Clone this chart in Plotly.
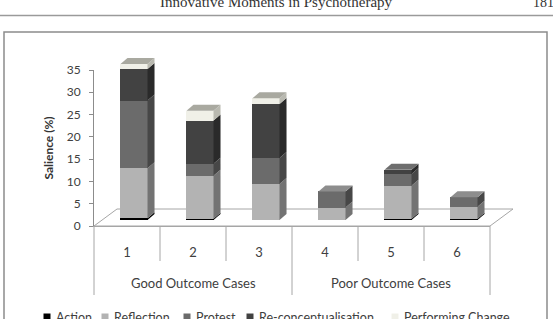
import plotly.graph_objects as go

# ---------------- data ----------------
cases = ["1", "2", "3", "4", "5", "6"]
groups = ["Good Outcome Cases", "Poor Outcome Cases"]
series_names = ["Action", "Reflection", "Protest", "Re-conceptualisation", "Performing Change"]
action = [0.4, 0.3, 0.0, 0.0, 0.3, 0.3]
reflection = [11.2, 9.6, 8.1, 2.8, 7.4, 2.7]
protest = [15.2, 2.7, 5.8, 3.6, 2.6, 2.1]
reconceptualisation = [7.1, 9.7, 12.1, 0.0, 1.0, 0.0]
performing_change = [1.1, 2.2, 1.3, 0.0, 0.0, 0.0]
y_ticks = [0, 5, 10, 15, 20, 25, 30, 35]

# ---------------- styles ----------------
front_cols = ["#000000", "#b3b3b3", "#6b6b6b", "#424242", "#f0f0e8"]
side_cols = ["#000000", "#737373", "#474747", "#2a2a2a", "#b9b9b0"]
top_cols = ["#222222", "#c8c8c8", "#8d8d8d", "#6e6e6e", "#a9a9a0"]
FONT = "Lato"

FIG_W, FIG_H = 553, 319
ML, MR, MT, MB = 94, 23, 50, 93
PW = FIG_W - ML - MR      # 436
PH = FIG_H - MT - MB      # 176
AXW = 396                 # front axis width in px
AXH = 156                 # front axis height in px
YMAX = 35
PX_PER_UNIT = AXH / YMAX
PX_PER_CAT = AXW / len(cases)
BAR_DX, BAR_DY = 7, 6     # bar placement inside the depth
SIDE_DX, SIDE_DY = 7, 6   # bar depth
FLOOR_DX, FLOOR_DY = 23, 17
BAR_W = 0.41

values = [action, reflection, protest, reconceptualisation, performing_change]

fig = go.Figure()

# invisible trace to populate the front category axis
fig.add_trace(go.Scatter(x=cases, y=[0] * len(cases), mode="markers",
                         marker=dict(opacity=0), showlegend=False,
                         hoverinfo="skip", xaxis="x", yaxis="y"))

xs = list(range(len(cases)))
for name, vals, col in zip(series_names, values, front_cols):
    fig.add_trace(go.Bar(x=xs, y=vals, name=name, width=BAR_W,
                         marker=dict(color=col, line=dict(width=0)),
                         xaxis="x2", yaxis="y2", showlegend=False))

# 3D side and top faces, computed from the stacked values
dxu = SIDE_DX / PX_PER_CAT
dyu = SIDE_DY / PX_PER_UNIT
shapes = []
for i in xs:
    base = 0.0
    xl = i - BAR_W / 2
    xr = i + BAR_W / 2
    top_k = None
    for k, vals in enumerate(values):
        v = vals[i]
        if v <= 0:
            continue
        b, t = base, base + v
        shapes.append(dict(type="path", xref="x2", yref="y2", layer="above",
                           path=f"M {xr},{b} L {xr+dxu},{b+dyu} L {xr+dxu},{t+dyu} L {xr},{t} Z",
                           fillcolor=side_cols[k], line=dict(width=0)))
        base = t
        top_k = k
    if top_k is not None:
        t = base
        shapes.append(dict(type="path", xref="x2", yref="y2", layer="above",
                           path=f"M {xl},{t} L {xr},{t} L {xr+dxu},{t+dyu} L {xl+dxu},{t+dyu} Z",
                           fillcolor=top_cols[top_k], line=dict(width=0)))

def px_to_paper_x(px):
    return (px - ML) / PW

def px_to_paper_y(py):
    return (FIG_H - MB - py) / PH

x_end = AXW / PW
fx = FLOOR_DX / PW
fy = FLOOR_DY / PH
# floor
shapes.append(dict(type="path", xref="paper", yref="paper", layer="below",
                   path=f"M 0,0 L {x_end},0 L {x_end+fx},{fy} L {fx},{fy} Z",
                   fillcolor="white", line=dict(color="#a6a6a6", width=1)))
# category box lines: short ones between cases, long ones at group edges
for j in range(len(cases) + 1):
    xp = j / len(cases) * x_end
    long_line = (j % 3 == 0)
    shapes.append(dict(type="line", xref="paper", yref="paper",
                       x0=xp, x1=xp, y0=0, y1=px_to_paper_y(295 if long_line else 261),
                       line=dict(color="#a6a6a6", width=1)))
# chart border
shapes.append(dict(type="rect", xref="paper", yref="paper",
                   x0=px_to_paper_x(4), x1=px_to_paper_x(547),
                   y0=px_to_paper_y(32), y1=px_to_paper_y(335),
                   line=dict(color="#8c8c8c", width=1.5), fillcolor="rgba(0,0,0,0)"))
# page header rule
shapes.append(dict(type="line", xref="paper", yref="paper",
                   x0=px_to_paper_x(0), x1=px_to_paper_x(553),
                   y0=px_to_paper_y(15.5), y1=px_to_paper_y(15.5),
                   line=dict(color="#9a9a9a", width=1.5)))

annotations = []
# group labels
for gi, g in enumerate(groups):
    annotations.append(dict(text=g, xref="x", yref="paper", x=1 + 3 * gi,
                            y=px_to_paper_y(283), showarrow=False, yanchor="middle",
                            font=dict(family=FONT, size=13, color="#404040")))
# page header text
annotations.append(dict(text="Innovative Moments in Psychotherapy", xref="paper", yref="paper",
                        x=px_to_paper_x(276), y=px_to_paper_y(2), showarrow=False,
                        yanchor="middle", font=dict(family="Liberation Serif", size=15, color="#333")))
annotations.append(dict(text="181", xref="paper", yref="paper",
                        x=px_to_paper_x(531), y=px_to_paper_y(2), showarrow=False,
                        xanchor="left", yanchor="middle",
                        font=dict(family="Liberation Serif", size=14, color="#333")))
# custom legend
legend_sq_px = [47, 105, 187, 250, 395]
for k, name in enumerate(series_names):
    sx = legend_sq_px[k]
    shapes.append(dict(type="rect", xref="paper", yref="paper",
                       x0=px_to_paper_x(sx - 3.5), x1=px_to_paper_x(sx + 3.5),
                       y0=px_to_paper_y(313.5), y1=px_to_paper_y(320.5),
                       fillcolor=front_cols[k], line=dict(width=0)))
    annotations.append(dict(text=name, xref="paper", yref="paper",
                            x=px_to_paper_x(sx + 7), y=px_to_paper_y(317),
                            xanchor="left", yanchor="middle", showarrow=False,
                            font=dict(family=FONT, size=12.5, color="#404040")))

fig.update_layout(
    width=FIG_W, height=FIG_H,
    margin=dict(l=ML, r=MR, t=MT, b=MB, autoexpand=False),
    paper_bgcolor="white", plot_bgcolor="rgba(0,0,0,0)",
    barmode="stack", bargap=0, showlegend=False,
    xaxis=dict(type="category", domain=[0, x_end], range=[-0.5, 5.5],
               categoryorder="array", categoryarray=cases,
               showline=True, linecolor="#a6a6a6", linewidth=1,
               ticks="", ticklabelstandoff=14, showgrid=False, zeroline=False,
               tickfont=dict(family=FONT, size=13, color="#404040"),
               anchor="y", fixedrange=True),
    yaxis=dict(domain=[0, AXH / PH], range=[0, YMAX], tickvals=y_ticks,
               showline=True, linecolor="#8c8c8c", linewidth=1,
               ticks="outside", ticklen=4, tickcolor="#8c8c8c",
               ticklabelstandoff=6,
               showgrid=False, zeroline=False,
               tickfont=dict(family=FONT, size=12, color="#404040"),
               title=dict(text="<b>Salience (%)</b>", standoff=10,
                          font=dict(family=FONT, size=12, color="#333")),
               anchor="x", fixedrange=True),
    xaxis2=dict(domain=[BAR_DX / PW, (AXW + BAR_DX) / PW], range=[-0.5, 5.5],
                visible=False, anchor="y2", fixedrange=True),
    yaxis2=dict(domain=[BAR_DY / PH, 1], range=[0, (PH - BAR_DY) / PX_PER_UNIT],
                visible=False, anchor="x2", fixedrange=True),
    shapes=shapes, annotations=annotations,
)

fig.write_html("out.html")
